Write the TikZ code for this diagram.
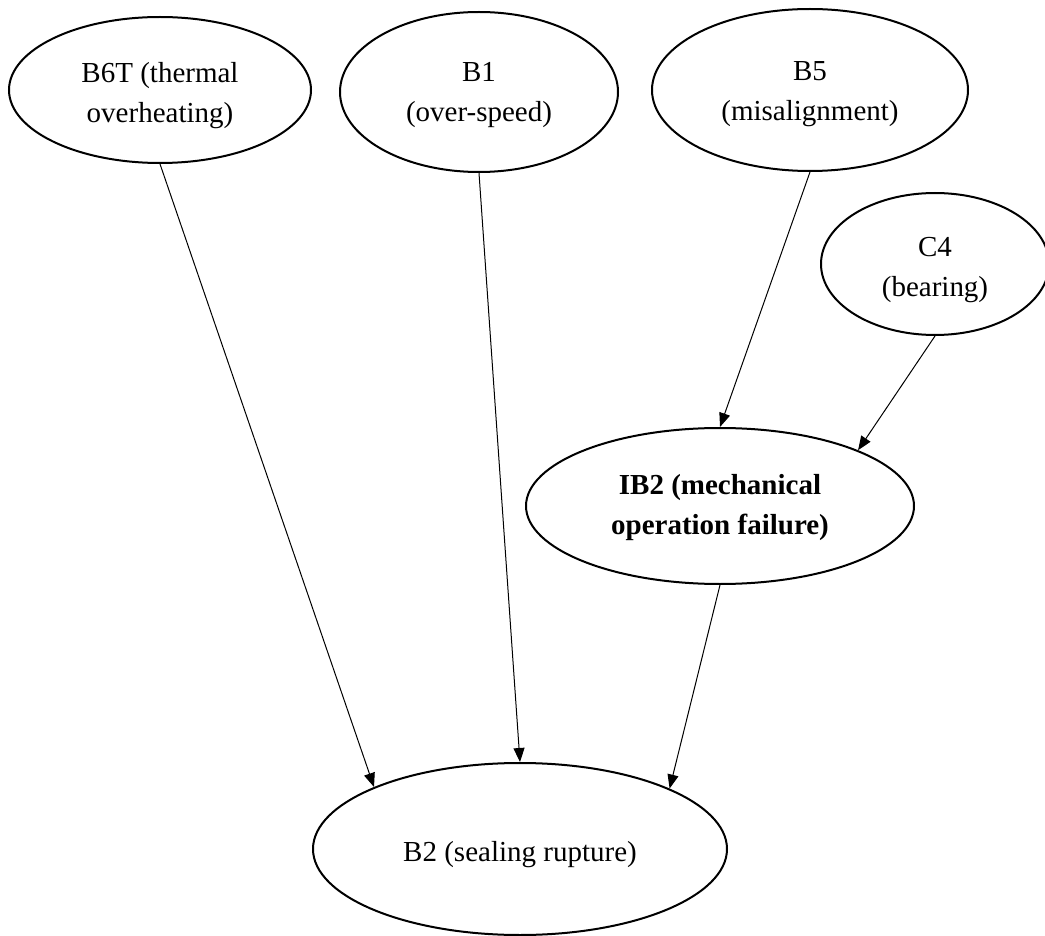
\documentclass[tikz,border=0pt]{standalone}
\usepackage{fontspec}
\setmainfont{Liberation Serif}
\usetikzlibrary{arrows.meta,shapes.geometric}
\tikzset{
  ell/.style={draw=black, line width=2pt, ellipse, inner sep=0pt},
  txt/.style={align=center, inner sep=0pt, font=\fontsize{29}{40}\selectfont},
  btxt/.style={txt, font=\fontsize{29}{40}\selectfont\bfseries},
  edge/.style={draw=black, line width=1pt, -{Triangle[length=14pt,width=11pt]}}
}
\begin{document}
\begin{tikzpicture}[x=1pt,y=-1pt]
\useasboundingbox (0,0) rectangle (1045,936);
\fill[white] (0,0) rectangle (1045,936);
% ellipses
\node[ell, minimum width=302pt, minimum height=146pt] (B6T) at (160,90) {};
\node[ell, minimum width=278pt, minimum height=160pt] (B1) at (479,92) {};
\node[ell, minimum width=316pt, minimum height=162pt] (B5) at (810,90) {};
\node[ell, minimum width=228pt, minimum height=142pt] (C4) at (935,264) {};
\node[ell, minimum width=388pt, minimum height=156pt] (IB2) at (720,506) {};
\node[ell, minimum width=414pt, minimum height=172pt] (B2) at (520,849) {};
% texts
\node[txt] (B6Tt) at (160,96) {B6T (thermal\\overheating)};
\node[txt] (B1t) at (479,95) {B1\\(over-speed)};
\node[txt] (B5t) at (810,94) {B5\\(misalignment)};
\node[txt] (C4t) at (935,270) {C4\\(bearing)};
\node[btxt] (IB2t) at (720,508) {IB2 (mechanical\\operation failure)};
\node[txt] (B2t) at (520,855) {B2 (sealing rupture)};
% edges
\draw[edge] (B6T.south) -- (B2.157.5);
\draw[edge] (B1.south) -- (B2.north);
\draw[edge] (B5.south) -- (IB2.north);
\draw[edge] (C4.south) -- (IB2.22);
\draw[edge] (IB2.south) -- (B2.22.5);
\end{tikzpicture}
\end{document}
